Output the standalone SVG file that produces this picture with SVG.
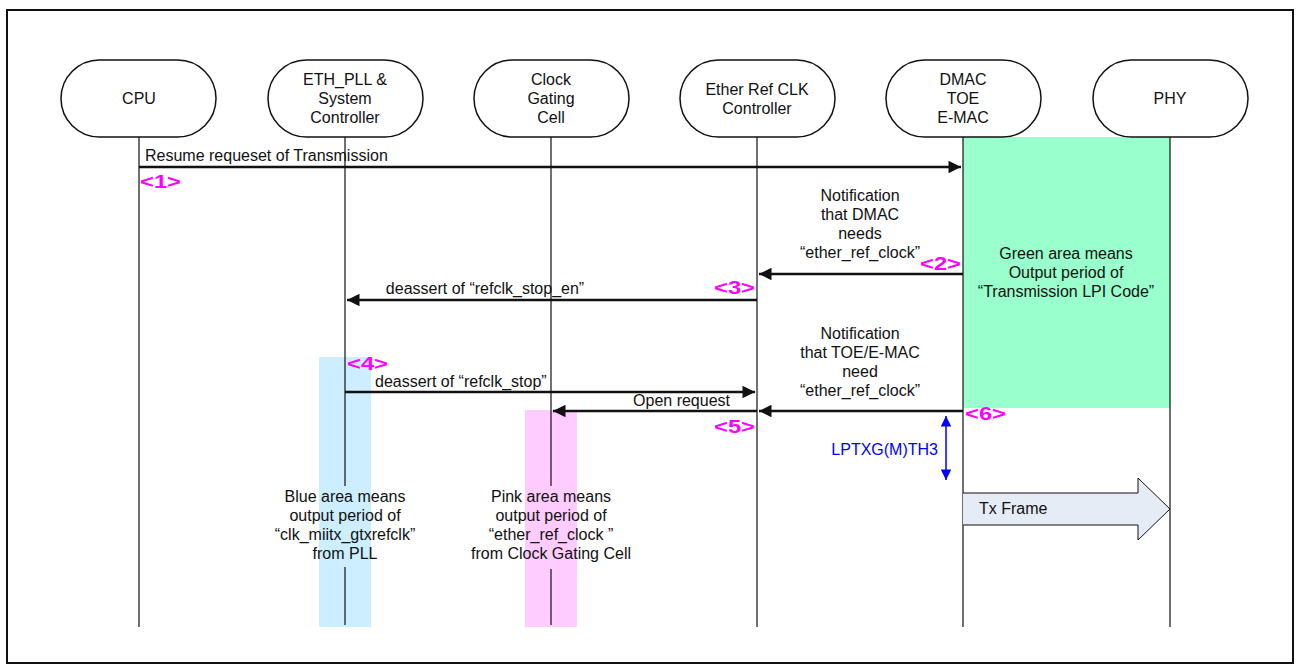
<svg xmlns="http://www.w3.org/2000/svg" width="1301" height="671" viewBox="0 0 1301 671">
<style>
text{font-family:"Liberation Sans",Arial,sans-serif;font-size:16px;fill:#111}
.c{text-anchor:middle}
.r{text-anchor:end}
.tag{font-size:18px;font-weight:bold;fill:#ff00ff}
.node{fill:#fff;stroke:#111;stroke-width:1.5}
.life{stroke:#111;stroke-width:1.2;fill:none}
.msg{stroke:#111;stroke-width:2.5;fill:none}
</style>
<defs>
<marker id="ah" viewBox="0 0 10 10" refX="10" refY="5" markerWidth="6" markerHeight="5" markerUnits="strokeWidth" orient="auto">
<path d="M0,0 L10,5 L0,10 z" fill="#111"/>
</marker>
<marker id="bh" viewBox="0 0 10 10" refX="10" refY="5" markerWidth="9" markerHeight="7" markerUnits="strokeWidth" orient="auto-start-reverse">
<path d="M0,0 L10,5 L0,10 z" fill="#0000ff"/>
</marker>
</defs>
<rect x="0" y="0" width="1301" height="671" fill="#fff"/>
<rect x="7" y="10" width="1286" height="653" fill="none" stroke="#111" stroke-width="2"/>

<g id="areas">
<rect x="963" y="137" width="207" height="271" fill="#99ffcc"/>
<rect x="319" y="357" width="52" height="270" fill="#cceeff"/>
<rect x="525" y="410" width="52" height="217" fill="#ffccff"/>
</g>

<g id="lifelines">
<line class="life" x1="139" y1="137" x2="139" y2="627"/>
<line class="life" x1="345" y1="137" x2="345" y2="486"/>
<line class="life" x1="345" y1="567" x2="345" y2="625"/>
<line class="life" x1="551" y1="137" x2="551" y2="486"/>
<line class="life" x1="551" y1="569" x2="551" y2="625"/>
<line class="life" x1="757" y1="137" x2="757" y2="627"/>
<line class="life" x1="963" y1="137" x2="963" y2="627"/>
<line class="life" x1="1170" y1="137" x2="1170" y2="627"/>
</g>

<g id="n-cpu"><rect class="node" x="61" y="60" width="155" height="77" rx="38.5"/><text class="c" x="139" y="104">CPU</text></g>
<g id="n-pll"><rect class="node" x="268" y="60" width="155" height="77" rx="38.5"/><text class="c" x="345" y="85">ETH_PLL &amp;</text><text class="c" x="345" y="104">System</text><text class="c" x="345" y="123">Controller</text></g>
<g id="n-cgc"><rect class="node" x="474" y="60" width="155" height="77" rx="38.5"/><text class="c" x="551" y="85">Clock</text><text class="c" x="551" y="104">Gating</text><text class="c" x="551" y="123">Cell</text></g>
<g id="n-erc"><rect class="node" x="680" y="60" width="155" height="77" rx="38.5"/><text class="c" x="757" y="95">Ether Ref CLK</text><text class="c" x="757" y="114">Controller</text></g>
<g id="n-dmac"><rect class="node" x="886" y="60" width="155" height="77" rx="38.5"/><text class="c" x="963" y="85">DMAC</text><text class="c" x="963" y="104">TOE</text><text class="c" x="963" y="123">E-MAC</text></g>
<g id="n-phy"><rect class="node" x="1093" y="60" width="155" height="77" rx="38.5"/><text class="c" x="1170" y="104">PHY</text></g>

<g id="connectors">
<line class="msg" x1="139" y1="167" x2="961" y2="167" marker-end="url(#ah)"/>
<line class="msg" x1="963" y1="274" x2="759" y2="274" marker-end="url(#ah)"/>
<line class="msg" x1="757" y1="300" x2="347" y2="300" marker-end="url(#ah)"/>
<line class="msg" x1="345" y1="392" x2="755" y2="392" marker-end="url(#ah)"/>
<line class="msg" x1="757" y1="411" x2="553" y2="411" marker-end="url(#ah)"/>
<line class="msg" x1="963" y1="411" x2="759" y2="411" marker-end="url(#ah)"/>
<line x1="946" y1="416" x2="946" y2="480" stroke="#0000ff" stroke-width="1.5" marker-start="url(#bh)" marker-end="url(#bh)"/>
<path d="M963,493 H1138 V478 L1170,509 L1138,540 V525 H963" fill="#e6ecf6" stroke="#111" stroke-width="1"/>
</g>

<g id="labels">
<text x="145" y="161">Resume requeset of Transmission</text>
<text class="tag" x="140" y="188" textLength="41" lengthAdjust="spacingAndGlyphs">&lt;1&gt;</text>
<text class="c" x="860" y="201">Notification</text>
<text class="c" x="860" y="220">that DMAC</text>
<text class="c" x="860" y="239">needs</text>
<text class="c" x="860" y="258">“ether_ref_clock”</text>
<text class="tag" x="920" y="270" textLength="41" lengthAdjust="spacingAndGlyphs">&lt;2&gt;</text>
<text class="c" x="485" y="294">deassert of “refclk_stop_en”</text>
<text class="tag" x="714" y="294" textLength="41" lengthAdjust="spacingAndGlyphs">&lt;3&gt;</text>
<text class="c" x="1066" y="259">Green area means</text>
<text class="c" x="1066" y="278">Output period of</text>
<text class="c" x="1066" y="297">“Transmission LPI Code”</text>
<text class="c" x="860" y="339">Notification</text>
<text class="c" x="860" y="358">that TOE/E-MAC</text>
<text class="c" x="860" y="377">need</text>
<text class="c" x="860" y="396">“ether_ref_clock”</text>
<text class="tag" x="347" y="370" textLength="41" lengthAdjust="spacingAndGlyphs">&lt;4&gt;</text>
<text x="375" y="387">deassert of “refclk_stop”</text>
<text class="r" x="730" y="406">Open request</text>
<text class="tag" x="714" y="433" textLength="41" lengthAdjust="spacingAndGlyphs">&lt;5&gt;</text>
<text class="tag" x="965" y="420" textLength="41" lengthAdjust="spacingAndGlyphs">&lt;6&gt;</text>
<text class="r" x="938" y="455" style="fill:#0000ff">LPTXG(M)TH3</text>
<text x="979" y="514">Tx Frame</text>
<text class="c" x="345" y="502">Blue area means</text>
<text class="c" x="345" y="521">output period of</text>
<text class="c" x="345" y="540">“clk_miitx_gtxrefclk”</text>
<text class="c" x="345" y="559">from PLL</text>
<text class="c" x="551" y="502">Pink area means</text>
<text class="c" x="551" y="521">output period of</text>
<text class="c" x="551" y="540">“ether_ref_clock ”</text>
<text class="c" x="551" y="559">from Clock Gating Cell</text>
</g>
</svg>
